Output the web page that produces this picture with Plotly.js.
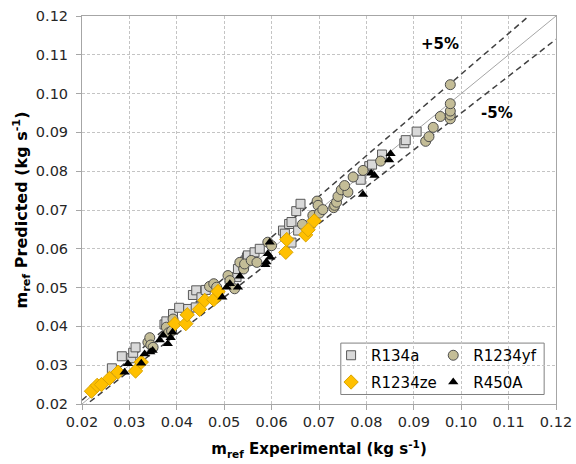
<!DOCTYPE html>
<html>
<head>
<meta charset="utf-8">
<script src="https://cdn.plot.ly/plotly-3.0.1.min.js"></script>
<style>
  html, body { margin: 0; padding: 0; background: #fff; }
  #chart { width: 576px; height: 464px; }
</style>
</head>
<body>
<div id="chart"></div>
<script>
// Refrigerant mass flow rate: experimental (x) vs predicted (y), kg/s

const r134aExp  = [0.0263,0.0284,0.0304,0.0308,0.0313,0.0374,0.0378,0.0392,0.0405,0.0424,0.0434,0.0440,0.0441,0.0452,0.0461,
                   0.0526,0.0529,0.0545,0.0548,0.0550,0.0564,0.0575,0.0624,0.0628,0.0637,0.0642,0.0642,0.0652,0.0656,0.0661,
                   0.0788,0.0806,0.0812,0.0833,0.0880,0.0883,0.0906];
const r134aPred = [0.0292,0.0323,0.0318,0.0332,0.0346,0.0405,0.0413,0.0432,0.0448,0.0445,0.0481,0.0449,0.0493,0.0475,0.0494,
                   0.0527,0.0548,0.0570,0.0578,0.0583,0.0591,0.0600,0.0647,0.0639,0.0664,0.0669,0.0616,0.0697,0.0647,0.0716,
                   0.0778,0.0813,0.0817,0.0843,0.0872,0.0880,0.0902];

const r1234yfExp  = [0.0339,0.0343,0.0345,0.0350,0.0378,0.0383,0.0389,0.0392,0.0469,0.0478,0.0484,0.0508,0.0512,0.0522,0.0533,
                     0.0541,0.0543,0.0557,0.0569,0.0592,0.0600,0.0665,0.0687,0.0696,0.0698,0.0701,0.0708,0.0731,0.0733,0.0737,
                     0.0740,0.0747,0.0761,0.0754,0.0772,0.0793,0.0830,0.0925,0.0932,0.0941,0.0956,0.0977,0.0977,0.0977,0.0977,0.0977];
const r1234yfPred = [0.0359,0.0371,0.0352,0.0346,0.0398,0.0384,0.0388,0.0419,0.0503,0.0510,0.0501,0.0531,0.0518,0.0497,0.0565,
                     0.0548,0.0561,0.0570,0.0565,0.0617,0.0608,0.0663,0.0686,0.0723,0.0712,0.0692,0.0701,0.0706,0.0712,0.0720,
                     0.0735,0.0752,0.0746,0.0763,0.0785,0.0802,0.0826,0.0877,0.0889,0.0913,0.0941,0.0935,0.0945,0.0955,0.0974,0.1023];

const r1234zeExp  = [0.0220,0.0232,0.0241,0.0258,0.0276,0.0313,0.0325,0.0396,0.0419,0.0422,0.0448,0.0459,0.0478,0.0487,
                     0.0630,0.0632,0.0672,0.0677,0.0690];
const r1234zePred = [0.0233,0.0248,0.0250,0.0266,0.0282,0.0285,0.0308,0.0407,0.0407,0.0430,0.0444,0.0467,0.0469,0.0490,
                     0.0591,0.0624,0.0636,0.0649,0.0672];

const r450aExp  = [0.0290,0.0297,0.0325,0.0332,0.0344,0.0349,0.0364,0.0371,0.0381,0.0387,0.0391,0.0496,0.0505,0.0512,0.0529,
                   0.0533,0.0587,0.0589,0.0597,0.0592,0.0596,0.0793,0.0810,0.0817,0.0848,0.0851];
const r450aPred = [0.0282,0.0304,0.0305,0.0329,0.0334,0.0338,0.0365,0.0377,0.0355,0.0371,0.0385,0.0475,0.0501,0.0510,0.0501,
                   0.0529,0.0559,0.0566,0.0578,0.0587,0.0617,0.0740,0.0795,0.0789,0.0829,0.0845];

// Reference lines: perfect agreement and the +/-5 % band
const lineX = [0.02, 0.12];
const bandPct = 5;
const tickVals = [0.02,0.03,0.04,0.05,0.06,0.07,0.08,0.09,0.10,0.11,0.12];

const FONT = 'DejaVu Sans, Verdana, sans-serif';

const traces = [
  { x: lineX, y: lineX, mode: 'lines', line: { color: '#a6a6a6', width: 1 },
    showlegend: false, hoverinfo: 'skip' },
  { x: lineX, y: lineX.map(v => v * (1 + bandPct / 100)), mode: 'lines',
    line: { color: '#404040', width: 1.5, dash: '6px,4px' }, showlegend: false, hoverinfo: 'skip' },
  { x: lineX, y: lineX.map(v => v * (1 - bandPct / 100)), mode: 'lines',
    line: { color: '#404040', width: 1.5, dash: '6px,4px' }, showlegend: false, hoverinfo: 'skip' },
  { name: 'R134a', legend: 'legend', x: r134aExp, y: r134aPred, mode: 'markers',
    marker: { symbol: 'square', size: 9, color: '#d9d9d9', line: { color: '#595959', width: 1 } } },
  { name: 'R1234yf', legend: 'legend2', x: r1234yfExp, y: r1234yfPred, mode: 'markers',
    marker: { symbol: 'circle', size: 10, color: '#c4bd97', line: { color: '#4d4d4d', width: 1 } } },
  { name: 'R1234ze', legend: 'legend3', x: r1234zeExp, y: r1234zePred, mode: 'markers',
    marker: { symbol: 'diamond', size: 11, color: '#ffc000', line: { color: '#d9a300', width: 1 } } },
  { name: 'R450A', legend: 'legend4', x: r450aExp, y: r450aPred, mode: 'markers',
    marker: { symbol: 'triangle-up', size: 9, color: '#000000', line: { color: '#000000', width: 0 } } }
];

const axisCommon = {
  range: [0.02, 0.12],
  tickvals: tickVals,
  tickformat: '.2f',
  showgrid: true,
  gridcolor: '#c4c4c4',
  griddash: '3px,2px',
  gridwidth: 1,
  zeroline: false,
  showline: true,
  linecolor: '#a6a6a6',
  linewidth: 1,
  mirror: true,
  ticks: 'outside',
  ticklen: 5,
  tickcolor: '#a6a6a6',
  tickfont: { family: FONT, size: 14.5, color: '#262626' },
  fixedrange: true
};

// Legend entries laid out as a 2 x 2 grid inside one framed box
const legendCommon = {
  xanchor: 'left',
  yanchor: 'middle',
  bgcolor: 'rgba(0,0,0,0)',
  borderwidth: 0,
  itemsizing: 'trace',
  font: { family: FONT, size: 15, color: '#000' }
};
const colX = [0.5255, 0.741];
const rowY = [0.125, 0.056];

const layout = {
  width: 576,
  height: 464,
  margin: { l: 82, r: 20, t: 16, b: 60 },
  paper_bgcolor: '#ffffff',
  plot_bgcolor: '#ffffff',
  font: { family: FONT, color: '#000000' },
  xaxis: Object.assign({}, axisCommon, {
    title: { text: '<b>m<sub>ref</sub> Experimental (kg s<sup>-1</sup>)</b>',
             font: { family: FONT, size: 15, color: '#000' }, standoff: 14 }
  }),
  yaxis: Object.assign({}, axisCommon, {
    ticklabelstandoff: 5,
    title: { text: '<b>m<sub>ref</sub> Predicted (kg s<sup>-1</sup>)</b>',
             font: { family: FONT, size: 16, color: '#000' }, standoff: 4 }
  }),
  legend:  Object.assign({}, legendCommon, { x: colX[0], y: rowY[0] }),
  legend2: Object.assign({}, legendCommon, { x: colX[1], y: rowY[0] }),
  legend3: Object.assign({}, legendCommon, { x: colX[0], y: rowY[1] }),
  legend4: Object.assign({}, legendCommon, { x: colX[1], y: rowY[1] }),
  shapes: [
    { type: 'rect', xref: 'paper', yref: 'paper', x0: 0.546, x1: 0.975, y0: 0.0245, y1: 0.157,
      fillcolor: '#ffffff', line: { color: '#808080', width: 1 }, layer: 'below' }
  ],
  annotations: [
    { x: 0.0955, y: 0.1127, xref: 'x', yref: 'y', text: '<b>+' + bandPct + '%</b>', showarrow: false,
      font: { family: FONT, size: 15, color: '#000' } },
    { x: 0.1075, y: 0.0949, xref: 'x', yref: 'y', text: '<b>-' + bandPct + '%</b>', showarrow: false,
      font: { family: FONT, size: 15, color: '#000' } }
  ],
  showlegend: true
};

Plotly.newPlot('chart', traces, layout, { staticPlot: true, displayModeBar: false });
</script>
</body>
</html>
